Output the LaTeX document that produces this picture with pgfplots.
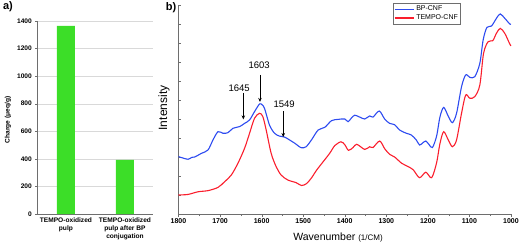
\documentclass[border=0pt]{standalone}
\usepackage{fontspec}
\setmainfont{Liberation Sans}
\usepackage{pgfplots}
\pgfplotsset{compat=1.18}
\usetikzlibrary{arrows.meta}
\definecolor{barg}{RGB}{60,222,40}
\definecolor{cblue}{RGB}{45,75,240}
\definecolor{cred}{RGB}{250,30,45}
\definecolor{axg}{RGB}{110,110,110}
\pgfplotstableread{
w y
1800 3.02
1790 2.95
1777 2.88
1768 2.98
1761 3.0
1745 3.19
1729 3.37
1717 3.9
1705 4.33
1693 4.25
1681 4.28
1669 4.51
1653 4.6
1641 4.77
1629 4.95
1617 5.39
1605 5.79
1599 5.75
1593 5.56
1581 4.68
1569 4.25
1557 4.1
1545 4.05
1533 3.9
1520 3.72
1505 3.49
1493 3.54
1480 3.9
1464 4.42
1448 4.56
1432 4.91
1416 4.98
1400 5.0
1392 4.86
1384 5.05
1376 5.2
1364 5.1
1352 5.0
1340 5.16
1332 5.1
1317 5.42
1304 5.0
1292 4.77
1280 4.7
1268 4.42
1252 4.25
1240 4.16
1228 3.9
1220 3.63
1212 3.75
1205 3.84
1197 3.65
1189 3.5
1179 4.1
1171 5.1
1162 5.61
1151 5.15
1141 4.81
1131 5.3
1119 6.7
1109 7.32
1099 7.19
1087 7.23
1075 7.93
1067 9.16
1058 9.82
1047 9.89
1035 10.3
1026 10.53
1015 10.3
1003 10.0
1000 9.98
}\bpcnf
\pgfplotstableread{
w y
1800 1.0
1777 1.03
1753 1.17
1729 1.23
1705 1.4
1689 1.7
1673 2.05
1657 2.67
1641 3.46
1629 4.25
1617 5.04
1605 5.3
1597 5.12
1589 4.42
1577 3.19
1565 2.49
1553 2.05
1537 1.79
1517 1.65
1504 1.5
1492 1.6
1480 1.9
1468 2.3
1452 2.75
1436 3.2
1424 3.6
1409 3.8
1400 3.65
1391 3.35
1380 3.5
1371 3.67
1352 3.4
1340 3.54
1332 3.5
1316 3.84
1304 3.44
1292 3.14
1280 3.0
1263 2.67
1247 2.49
1235 2.32
1220 1.91
1205 2.2
1191 1.91
1179 2.7
1171 3.7
1162 4.33
1151 3.9
1141 3.54
1131 3.9
1119 5.3
1109 6.26
1099 6.09
1087 6.18
1075 6.79
1066 8.46
1055 9.07
1044 9.12
1035 9.51
1026 9.77
1015 9.51
1003 8.95
1000 8.85
}\tempocnf
\begin{document}
\begin{tikzpicture}[x=1pt,y=1pt]
\useasboundingbox (0,0) rectangle (521,246);
% panel a
\begin{axis}[at={(37pt,32pt)}, anchor=south west, scale only axis,
  width=116pt, height=193pt,
  xmin=-0.49, xmax=1.475, ymin=0, ymax=1400,
  ytick={0,200,...,1400},
  xtick={0,1},
  xticklabels={TEMPO-oxidized\\pulp, TEMPO-oxidized\\pulp after BP\\conjugation},
  x tick label style={align=center, font=\bfseries\fontsize{6.6}{7.8}\selectfont, inner sep=1pt, yshift=-1pt},
  y tick label style={font=\bfseries\fontsize{6.6}{8}\selectfont, inner sep=1pt, xshift=-2pt},
  /pgf/number format/assume math mode=true, /pgf/number format/1000 sep={},
  axis x line*=bottom, axis y line*=left,
  axis line style={axg, -},
  ymajorgrids, grid style={gray!30},
  major x tick style={draw=none},
  major y tick style={axg},
  tick align=outside, major tick length=2pt,
  clip=false]
\addplot[ybar, bar width=18pt, fill=barg, draw=none] coordinates {(0,1364) (1,392)};
\end{axis}
\node[rotate=90, font=\bfseries\fontsize{6.6}{8}\selectfont] at (8,126) {Charge (μeq/g)};
\node[font=\bfseries\fontsize{11}{12}\selectfont] at (8,239) {a)};
\node[font=\bfseries\fontsize{11}{12}\selectfont] at (171,238) {b)};
% panel b
\begin{axis}[at={(178.5pt,32pt)}, anchor=south west, scale only axis,
  width=332.5pt, height=209pt,
  xmin=1000, xmax=1800, x dir=reverse, ymin=0, ymax=11,
  xtick={1000,1100,...,1800}, minor x tick num=1,
  ytick={1,...,11}, yticklabels={},
  x tick label style={font=\bfseries\fontsize{7}{8}\selectfont, inner sep=1pt},
  /pgf/number format/assume math mode=true, /pgf/number format/1000 sep={},
  axis x line*=bottom, axis y line*=left,
  axis line style={axg, -},
  tick style={axg},
  tick align=outside, major tick length=3pt, minor tick length=2pt,
  major y tick style={xshift=3pt},
  legend style={at={(0.645,1.0096)}, anchor=north west, draw=axg,
    font=\fontsize{7}{8}\selectfont, inner sep=0.8pt, row sep=-1.5pt,
    cells={anchor=west}},
  legend image code/.code={\draw[#1] (0pt,0pt) -- (19pt,0pt);},
  legend image post style={line width=1.3pt},
  clip=false]
\addplot[cblue, line width=1.1pt, smooth] table[x=w,y=y] {\bpcnf};
\addlegendentry{BP-CNF}
\addplot[cred, line width=1.1pt, smooth] table[x=w,y=y] {\tempocnf};
\addlegendentry{TEMPO-CNF}
\draw[-{Stealth[length=4pt,width=3.5pt]}, black, line width=0.6pt] (axis cs:1644,6.37) -- (axis cs:1644,4.98);
\draw[-{Stealth[length=4pt,width=3.5pt]}, black, line width=0.6pt] (axis cs:1604,7.32) -- (axis cs:1604,5.9);
\draw[-{Stealth[length=4pt,width=3.5pt]}, black, line width=0.6pt] (axis cs:1548,5.42) -- (axis cs:1548,4.05);
\node[font=\fontsize{9.5}{10}\selectfont] at (axis cs:1654,6.63) {1645};
\node[font=\fontsize{9.5}{10}\selectfont] at (axis cs:1606,7.84) {1603};
\node[font=\fontsize{9.5}{10}\selectfont] at (axis cs:1546,5.79) {1549};
\end{axis}
\node[rotate=90, font=\fontsize{12}{13}\selectfont] at (164,138) {Intensity};
\node[font=\fontsize{10.5}{12}\selectfont] at (338,8) {Wavenumber {\fontsize{8}{9}\selectfont(1/CM)}};
\end{tikzpicture}
\end{document}
